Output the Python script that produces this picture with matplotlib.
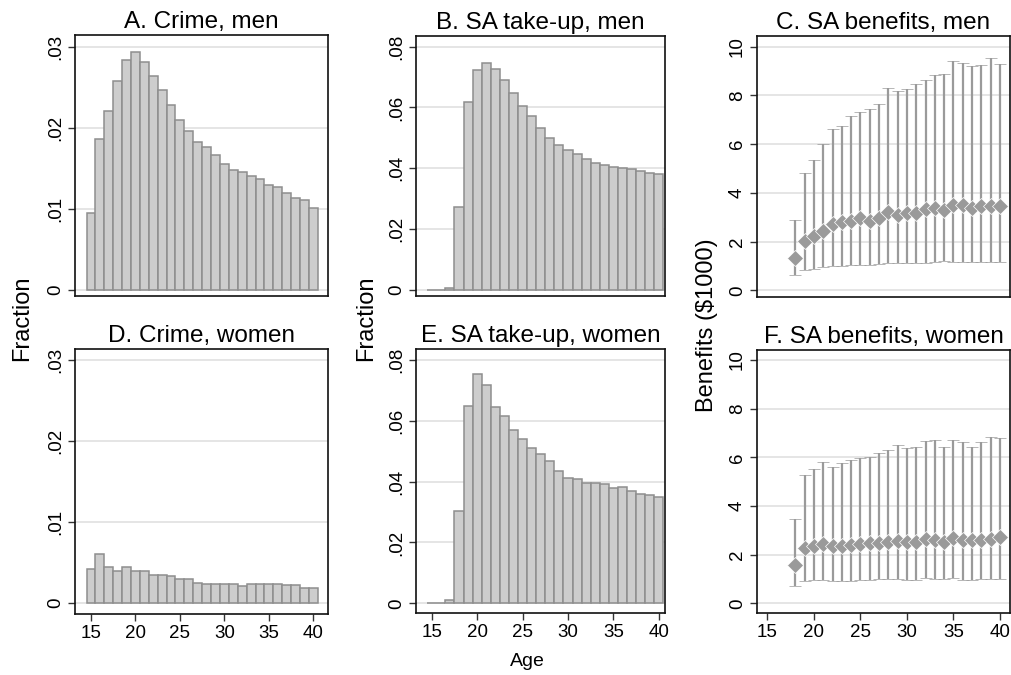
import numpy as np
import matplotlib
matplotlib.use("Agg")
import matplotlib.pyplot as plt

plt.rcParams['font.family'] = ['Liberation Sans', 'DejaVu Sans']

# ---- data ----
ages = list(range(15, 41))
ages_ben = list(range(18, 41))

crime_men = [0.0095, 0.0186, 0.0221, 0.0258, 0.0284, 0.0293, 0.0281, 0.0264,
             0.0247, 0.0228, 0.0210, 0.0196, 0.0183, 0.0176, 0.0166, 0.0155,
             0.0148, 0.0146, 0.0141, 0.0137, 0.0130, 0.0127, 0.0119, 0.0113,
             0.0111, 0.0101]
crime_women = [0.0042, 0.0061, 0.0045, 0.0039, 0.0045, 0.0040, 0.0039, 0.0034,
               0.0034, 0.0033, 0.0029, 0.0029, 0.0025, 0.0024, 0.0024, 0.0023,
               0.0024, 0.0021, 0.0023, 0.0023, 0.0024, 0.0023, 0.0022, 0.0022,
               0.0019, 0.0019]
takeup_men = [0.0, 0.0, 0.0005, 0.0274, 0.0619, 0.0723, 0.0745, 0.0727,
              0.0690, 0.0647, 0.0605, 0.0573, 0.0533, 0.0499, 0.0477, 0.0459,
              0.0446, 0.0431, 0.0416, 0.0410, 0.0403, 0.0401, 0.0396, 0.0392,
              0.0385, 0.0380]
takeup_women = [0.0, 0.0, 0.0011, 0.0304, 0.0649, 0.0755, 0.0716, 0.0646,
                0.0616, 0.0570, 0.0541, 0.0510, 0.0490, 0.0468, 0.0435, 0.0413,
                0.0408, 0.0397, 0.0396, 0.0393, 0.0379, 0.0381, 0.0368, 0.0359,
                0.0357, 0.0349]

ben_men_mean = [1.34, 2.01, 2.22, 2.45, 2.72, 2.79, 2.86, 2.95, 2.86, 2.97,
                3.21, 3.08, 3.19, 3.17, 3.32, 3.39, 3.28, 3.49, 3.49, 3.39,
                3.45, 3.45, 3.45]
ben_men_hi = [2.90, 4.83, 5.36, 6.02, 6.63, 6.76, 7.15, 7.33, 7.46, 7.63,
              8.32, 8.19, 8.28, 8.48, 8.65, 8.82, 8.89, 9.43, 9.33, 9.22,
              9.23, 9.55, 9.29]
ben_men_lo = [0.64, 0.83, 0.86, 0.94, 1.00, 1.01, 1.03, 1.04, 1.05, 1.08,
              1.11, 1.11, 1.11, 1.12, 1.14, 1.16, 1.19, 1.16, 1.18, 1.16,
              1.16, 1.15, 1.15]

ben_women_mean = [1.59, 2.29, 2.36, 2.45, 2.37, 2.36, 2.38, 2.42, 2.48, 2.49,
                  2.53, 2.56, 2.53, 2.51, 2.64, 2.60, 2.53, 2.67, 2.60, 2.60,
                  2.58, 2.64, 2.74]
ben_women_hi = [3.47, 5.26, 5.52, 5.81, 5.60, 5.78, 5.90, 5.96, 6.03, 6.16,
                6.30, 6.49, 6.38, 6.41, 6.68, 6.73, 6.42, 6.71, 6.64, 6.44,
                6.64, 6.85, 6.79]
ben_women_lo = [0.73, 0.93, 0.97, 0.97, 0.93, 0.92, 0.93, 0.97, 0.97, 0.99,
                0.99, 1.00, 0.96, 0.97, 1.04, 1.00, 1.00, 1.03, 0.97, 0.95,
                1.00, 1.01, 0.99]

x_ticks = [15, 20, 25, 30, 35, 40]
crime_ticks = [0, 0.01, 0.02, 0.03]
crime_labels = ['0', '.01', '.02', '.03']
takeup_ticks = [0, 0.02, 0.04, 0.06, 0.08]
takeup_labels = ['0', '.02', '.04', '.06', '.08']
ben_ticks = [0, 2, 4, 6, 8, 10]
ben_labels = ['0', '2', '4', '6', '8', '10']

BAR_FILL = '#cdcdcd'
BAR_EDGE = '#8e8e8e'
MARK = '#9a9a9a'
GRID = '#e3e3e3'

W, H = 1011, 675
fig = plt.figure(figsize=(W / 100, H / 100), dpi=100)


def make_axes(left, right, top, bottom):
    return fig.add_axes([left / W, 1 - bottom / H, (right - left) / W, (bottom - top) / H])


def style(ax, title, yticks, ylabels, xlim, ylim, show_x):
    ax.set_title(title, fontsize=17.5, pad=5)
    ax.set_xlim(*xlim)
    ax.set_ylim(*ylim)
    ax.set_yticks(yticks)
    ax.set_yticklabels(ylabels, rotation=90, va='center', fontsize=13.5)
    ax.yaxis.grid(True, color=GRID, lw=1.3)
    ax.set_axisbelow(True)
    ax.tick_params(axis='y', direction='out', length=5, width=1, color='#333333', pad=3)
    if show_x:
        ax.set_xticks(x_ticks)
        ax.tick_params(axis='x', direction='out', length=5, width=1, color='#333333',
                       labelsize=13.5, pad=3)
    else:
        ax.set_xticks([])
    for s in ax.spines.values():
        s.set_color('#111111')
        s.set_linewidth(1.2)


def bars(ax, vals):
    ax.bar(ages, vals, width=1.0, color=BAR_FILL, edgecolor=BAR_EDGE, linewidth=1.1)


def bens(ax, mean, lo, hi):
    m = np.array(mean)
    err = [m - np.array(lo), np.array(hi) - m]
    ax.errorbar(ages_ben, mean, yerr=err, fmt='D', color=MARK, ms=8.5, mec='white', mew=0.5,
                elinewidth=1.6, capsize=4.5, capthick=1.4)


axA = make_axes(75, 328, 35, 296)
bars(axA, crime_men)
style(axA, 'A. Crime, men', crime_ticks, crime_labels, (13.2, 41.65), (-0.00074, 0.03144), False)

axB = make_axes(416, 665, 36, 296)
bars(axB, takeup_men)
style(axB, 'B. SA take-up, men', takeup_ticks, takeup_labels, (13.27, 40.67), (-0.002, 0.0835), False)

axC = make_axes(757, 1010, 36, 297)
bens(axC, ben_men_mean, ben_men_lo, ben_men_hi)
style(axC, 'C. SA benefits, men', ben_ticks, ben_labels, (13.88, 41.08), (-0.275, 10.44), False)

axD = make_axes(75, 328, 349, 614)
bars(axD, crime_women)
style(axD, 'D. Crime, women', crime_ticks, crime_labels, (13.2, 41.65), (-0.00136, 0.03136), True)

axE = make_axes(416, 665, 349, 613)
bars(axE, takeup_women)
style(axE, 'E. SA take-up, women', takeup_ticks, takeup_labels, (13.27, 40.67), (-0.0032, 0.0836), True)

axF = make_axes(757, 1010, 350, 613)
bens(axF, ben_women_mean, ben_women_lo, ben_women_hi)
style(axF, 'F. SA benefits, women', ben_ticks, ben_labels, (13.88, 41.08), (-0.4, 10.41), True)

fig.text(22 / W, 1 - 318 / H, 'Fraction', rotation=90, ha='center', va='center', fontsize=17)
fig.text(366 / W, 1 - 318 / H, 'Fraction', rotation=90, ha='center', va='center', fontsize=17)
fig.text(707 / W, 1 - 325 / H, 'Benefits ($1000)', rotation=90, ha='center', va='center', fontsize=17)
fig.text(527 / W, 1 - 661 / H, 'Age', ha='center', va='center', fontsize=14)

fig.savefig('out.png', dpi=100, facecolor='white')
